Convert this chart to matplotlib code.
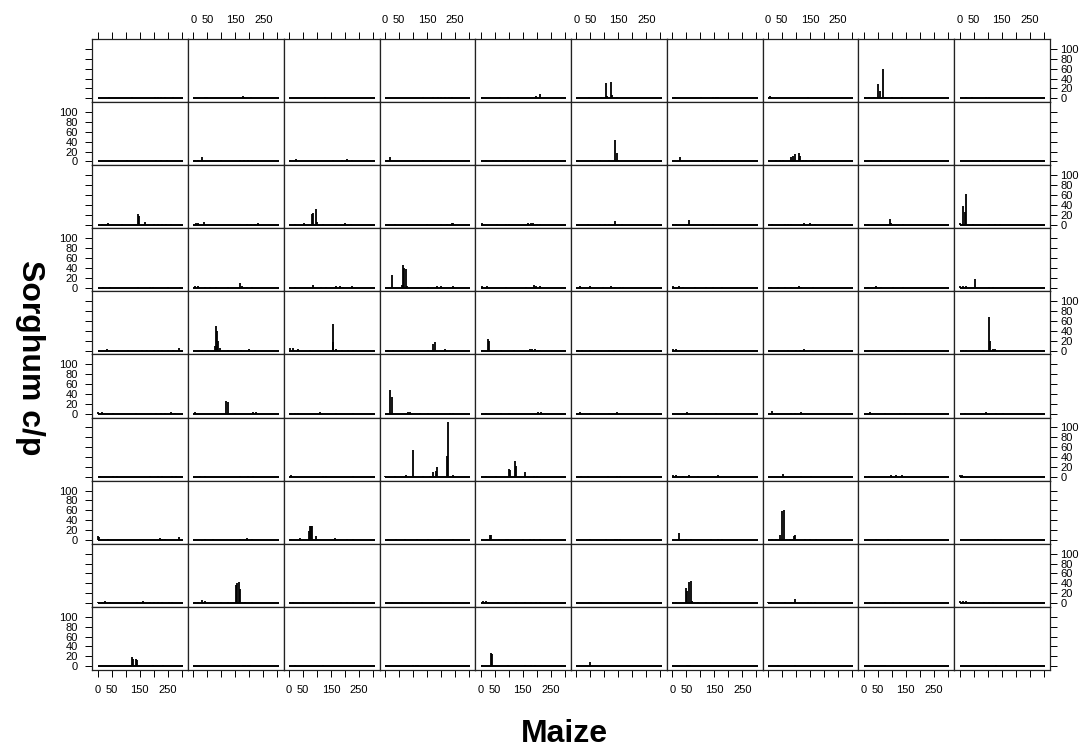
import numpy as np
import matplotlib
matplotlib.use('Agg')
import matplotlib.pyplot as plt

plt.rcParams['font.family'] = 'Liberation Sans'

# maize position range covered by every panel (baseline) and axis settings
maize_extent = [0, 305]
x_ticks = [0, 50, 100, 150, 200, 250, 300]
x_tick_labels = ['0', '50', '', '150', '', '250', '']
y_ticks = [0, 20, 40, 60, 80, 100]
y_tick_labels = ['0', '20', '40', '60', '80', '100']

# spikes per panel: (maize position, sorghum c/p), one list per row (top to bottom)
row0 = [
    [(42, 2), (121, 2), (205, 2), (215, 2), (225, 3), (240, 2), (270, 2)],
    [(41, 2), (47, 2), (177, 5), (182, 2), (206, 2)],
    [(128, 2)],
    [(137, 2), (173, 2), (190, 2), (202, 2), (215, 2), (228, 2), (240, 2)],
    [(3, 2), (68, 2), (98, 2), (197, 4), (211, 9)],
    [(45, 2), (86, 2), (107, 30), (110, 4), (123, 34), (126, 6), (143, 2)],
    [(11, 2), (104, 2), (145, 2), (155, 2), (163, 2)],
    [(8, 4), (12, 2), (143, 2)],
    [(5, 2), (20, 2), (35, 2), (52, 29), (57, 14), (69, 60), (75, 3), (101, 2), (138, 2)],
    [(24, 2), (44, 2), (95, 2), (107, 2)],
]
row1 = [
    [(50, 2), (104, 2), (210, 2), (225, 2), (246, 2)],
    [(5, 3), (17, 3), (30, 8), (100, 3), (166, 2), (180, 2), (195, 2), (211, 3)],
    [(2, 2), (23, 5), (157, 2), (190, 2), (205, 4), (226, 3)],
    [(6, 2), (18, 8), (137, 2), (202, 2), (238, 2)],
    [(20, 3), (44, 3), (92, 2), (150, 2), (170, 2), (190, 2)],
    [(54, 2), (83, 2), (117, 2), (136, 44), (143, 18), (149, 3)],
    [(29, 8), (146, 2), (160, 2), (176, 2)],
    [(30, 2), (42, 2), (54, 2), (81, 8), (89, 12), (95, 15), (111, 18), (115, 10),
     (125, 2), (135, 2), (161, 2)],
    [(63, 2), (129, 2)],
    [(119, 2), (143, 2)],
]
row2 = [
    [(14, 2), (38, 3), (86, 2), (143, 22), (148, 18), (170, 5), (200, 2), (215, 2),
     (230, 2), (245, 2), (262, 2)],
    [(9, 4), (17, 3), (39, 5), (190, 2), (205, 2), (220, 2), (231, 4)],
    [(20, 2), (52, 3), (81, 22), (86, 24), (96, 31), (101, 5), (121, 2), (169, 2),
     (199, 3), (220, 2)],
    [(36, 2), (149, 2), (202, 2), (220, 2), (238, 3), (244, 4)],
    [(6, 3), (59, 2), (92, 2), (101, 2), (169, 3), (180, 3), (188, 3), (200, 2), (211, 2)],
    [(43, 2), (83, 2), (101, 2), (117, 2), (137, 8), (161, 2)],
    [(3, 2), (15, 2), (60, 9), (146, 2)],
    [(15, 2), (60, 2), (70, 2), (83, 2), (127, 3), (151, 4), (167, 2)],
    [(5, 2), (15, 2), (93, 11), (99, 3), (140, 2)],
    [(2, 4), (12, 38), (18, 25), (24, 62), (48, 2), (107, 2), (125, 2), (143, 2)],
]
row3 = [
    [(20, 2), (44, 2), (143, 2), (187, 2), (199, 2), (252, 2), (294, 2)],
    [(5, 3), (17, 3), (41, 2), (60, 2), (80, 2), (124, 2), (166, 9), (172, 3),
     (190, 2), (210, 2)],
    [(2, 2), (20, 2), (86, 6), (115, 2), (133, 2), (169, 3), (181, 4), (193, 2), (223, 3)],
    [(24, 25), (60, 5), (63, 45), (68, 40), (74, 38), (80, 4), (155, 2), (185, 3),
     (202, 3), (244, 3)],
    [(6, 4), (23, 4), (92, 2), (161, 2), (190, 6), (197, 4), (211, 4)],
    [(14, 3), (48, 3), (93, 2), (125, 4), (137, 2), (155, 2), (165, 2)],
    [(3, 3), (24, 3), (39, 2), (80, 2), (122, 2), (146, 2), (176, 2)],
    [(12, 2), (36, 2), (60, 2), (83, 2), (111, 3), (119, 2), (161, 2)],
    [(15, 2), (43, 4), (63, 2), (105, 2), (140, 2)],
    [(2, 3), (12, 3), (24, 3), (57, 17), (107, 2), (119, 2)],
]
row4 = [
    [(32, 4), (68, 2), (110, 2), (160, 2), (175, 2), (200, 2), (215, 2), (230, 2),
     (250, 2), (270, 2), (292, 5)],
    [(29, 2), (53, 2), (77, 10), (80, 51), (85, 40), (89, 20), (95, 5), (124, 2),
     (170, 2), (198, 3), (220, 2)],
    [(2, 5), (15, 5), (32, 3), (74, 2), (155, 54), (157, 18), (169, 3), (190, 2),
     (210, 2), (228, 2)],
    [(12, 2), (30, 2), (60, 2), (155, 2), (170, 13), (179, 18), (214, 3)],
    [(3, 2), (27, 24), (30, 20), (54, 2), (71, 2), (119, 2), (175, 4), (185, 3),
     (193, 4), (205, 2), (211, 2)],
    [(5, 2), (20, 2), (48, 2), (117, 2), (135, 2), (155, 2)],
    [(3, 4), (15, 3), (105, 2), (125, 2), (155, 2), (170, 2)],
    [(71, 2), (100, 2), (115, 2), (127, 3), (161, 2)],
    [(117, 2), (125, 2), (135, 2)],
    [(12, 2), (24, 2), (83, 2), (105, 69), (110, 20), (118, 3), (125, 3)],
]
row5 = [
    [(2, 3), (14, 3), (56, 2), (137, 2), (210, 2), (225, 2), (240, 2), (262, 4), (276, 2)],
    [(5, 3), (118, 26), (122, 24), (148, 2), (214, 3), (225, 3)],
    [(8, 2), (20, 2), (30, 2), (110, 3), (169, 2), (229, 2)],
    [(18, 49), (24, 35), (83, 3), (89, 3), (125, 2), (155, 2), (232, 2), (244, 2)],
    [(18, 2), (71, 2), (101, 2), (205, 3), (215, 3)],
    [(14, 3), (48, 2), (117, 2), (143, 3)],
    [(54, 3), (155, 2)],
    [(15, 5), (83, 2), (98, 2), (119, 4)],
    [(21, 3), (75, 2), (129, 2), (146, 2)],
    [(18, 2), (95, 4), (131, 2), (155, 2)],
]
row6 = [
    [(8, 2), (56, 2), (68, 2), (187, 2), (217, 2), (229, 2), (265, 2), (280, 2)],
    [(23, 2), (41, 2), (166, 2), (196, 2), (214, 2)],
    [(8, 4), (121, 2), (133, 2), (229, 2)],
    [(0, 2), (36, 2), (77, 3), (101, 55), (137, 2), (161, 2), (170, 10), (182, 13),
     (187, 20), (220, 43), (226, 112), (242, 3)],
    [(20, 2), (56, 2), (101, 17), (106, 14), (121, 32), (127, 22), (157, 11),
     (190, 2), (200, 2)],
    [(18, 2), (40, 2), (113, 2), (143, 2), (155, 2)],
    [(3, 3), (15, 3), (39, 2), (60, 3), (92, 2), (164, 3)],
    [(54, 5), (119, 2), (155, 2)],
    [(5, 2), (20, 2), (99, 3), (115, 3), (135, 3)],
    [(2, 3), (8, 3)],
]
row7 = [
    [(2, 9), (6, 6), (38, 3), (223, 5), (230, 2), (240, 2), (292, 6)],
    [(41, 3), (71, 2), (166, 2), (190, 4), (208, 2)],
    [(8, 3), (38, 4), (70, 18), (74, 28), (79, 28), (82, 28), (96, 8), (163, 4),
     (205, 2), (229, 2)],
    [(10, 2), (40, 2), (70, 2), (113, 2), (155, 2), (194, 2), (244, 2)],
    [(23, 3), (33, 11), (38, 10), (66, 2), (92, 2), (98, 3), (151, 3), (175, 3),
     (190, 3), (211, 3)],
    [(48, 2), (107, 2), (137, 3), (146, 3), (155, 3)],
    [(23, 15), (50, 3), (68, 2), (140, 2), (164, 2), (176, 2)],
    [(2, 3), (15, 3), (30, 3), (44, 10), (50, 59), (56, 60), (77, 3), (89, 3),
     (93, 8), (98, 11), (131, 3), (150, 3), (173, 3)],
    [(45, 2), (87, 2), (129, 3)],
    [(65, 2), (125, 2), (149, 2)],
]
row8 = [
    [(2, 3), (14, 3), (26, 4), (44, 3), (139, 2), (163, 4), (187, 3), (200, 3),
     (215, 3), (229, 3), (255, 2), (265, 2)],
    [(5, 3), (17, 3), (29, 7), (41, 4), (100, 2), (124, 2), (152, 36), (157, 40),
     (162, 42), (166, 29), (186, 3), (208, 3)],
    [(2, 2), (12, 2), (50, 2), (157, 3), (170, 3), (185, 3), (205, 3), (229, 2)],
    [(60, 3), (131, 2), (202, 2), (244, 2)],
    [(9, 4), (20, 4), (27, 3), (62, 2), (127, 2), (157, 2), (181, 3), (199, 3), (211, 3)],
    [(45, 2), (86, 2), (149, 2)],
    [(3, 3), (15, 3), (48, 30), (54, 25), (60, 42), (66, 44), (71, 5), (92, 2),
     (122, 2), (146, 2), (158, 2), (170, 2)],
    [(0, 3), (12, 3), (60, 2), (83, 3), (98, 9), (143, 3), (155, 3), (167, 3)],
    [(21, 2), (50, 2), (75, 2), (105, 2), (129, 2)],
    [(2, 4), (12, 4), (24, 4), (89, 2), (105, 2), (120, 2), (149, 2)],
]
row9 = [
    [(121, 19), (125, 15), (137, 15), (142, 12), (199, 2), (235, 3), (300, 2)],
    [(178, 3), (185, 3), (195, 3), (202, 3)],
    [(20, 2), (121, 3)],
    [(101, 2), (110, 2), (119, 2)],
    [(3, 2), (37, 27), (42, 24), (98, 2), (157, 2), (180, 2), (193, 2)],
    [(48, 9)],
    [(51, 2), (57, 2), (63, 2)],
    [(36, 2), (95, 2)],
    [(63, 3), (69, 3), (75, 3)],
    [(131, 2)],
]
rows = [row0, row1, row2, row3, row4, row5, row6, row7, row8, row9]

nr, nc = 10, 10
fig, axes = plt.subplots(nr, nc, figsize=(10.91, 7.49), dpi=100)
fig.subplots_adjust(left=0.0846, right=0.9624, top=0.948, bottom=0.1055,
                    wspace=0, hspace=0)

tick_kw = dict(direction='out', length=5, width=0.7, colors='black', labelsize=8)

for r in range(nr):
    for c in range(nc):
        ax = axes[r, c]
        spikes = np.array(rows[r][c], dtype=float)
        ax.plot(maize_extent, [0, 0], color='black', lw=1.4, solid_capstyle='butt')
        ax.vlines(spikes[:, 0], 0, spikes[:, 1], color='black', lw=1.3)
        ax.set_xlim(-19, 323)
        ax.set_ylim(-7.5, 120)
        for s in ax.spines.values():
            s.set_linewidth(0.9)
            s.set_color('#222222')

        ax.set_xticks(x_ticks)
        ax.set_yticks(y_ticks)
        ax.tick_params(axis='both', which='both', top=False, bottom=False,
                       left=False, right=False, labeltop=False, labelbottom=False,
                       labelleft=False, labelright=False, **tick_kw)
        ax.set_xticklabels(x_tick_labels)
        ax.set_yticklabels(y_tick_labels)

        if r == 0:
            ax.tick_params(axis='x', top=True, labeltop=(c % 2 == 1), pad=5)
        if r == nr - 1:
            ax.tick_params(axis='x', bottom=True, labelbottom=(c % 2 == 0), pad=6)
        if c == 0:
            ax.tick_params(axis='y', left=True, labelleft=(r % 2 == 1), pad=5.5)
        if c == nc - 1:
            ax.tick_params(axis='y', right=True, labelright=(r % 2 == 0), pad=2.5)

fig.text(0.0275, 0.523, 'Sorghum c/p', rotation=-90, ha='center', va='center',
         fontsize=23, fontweight='bold')
fig.text(0.517, 0.009, 'Maize', ha='center', va='baseline',
         fontsize=23, fontweight='bold')

fig.savefig('out.png', dpi=100)
